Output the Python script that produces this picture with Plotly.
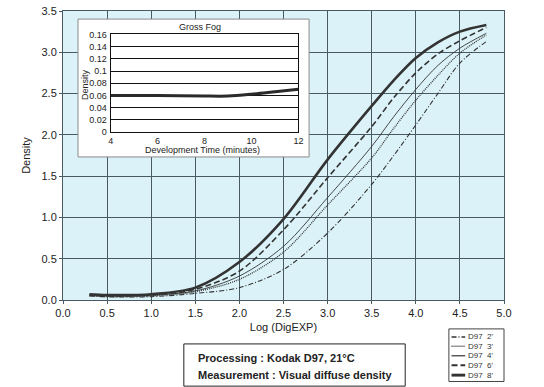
import plotly.graph_objects as go

# ---------------- data ----------------
log_exp = [0.3, 0.5, 1.0, 1.5, 2.0, 2.5, 3.0, 3.5, 3.75, 4.0, 4.25, 4.5, 4.8]
d97_2 = [0.05, 0.04, 0.04, 0.08, 0.15, 0.37, 0.81, 1.40, 1.75, 2.12, 2.50, 2.87, 3.13]
d97_3 = [0.05, 0.04, 0.05, 0.10, 0.25, 0.58, 1.15, 1.72, 2.08, 2.42, 2.72, 2.99, 3.21]
d97_4 = [0.06, 0.05, 0.06, 0.11, 0.29, 0.65, 1.24, 1.86, 2.22, 2.55, 2.84, 3.05, 3.23]
d97_6 = [0.06, 0.05, 0.06, 0.13, 0.35, 0.85, 1.48, 2.10, 2.45, 2.75, 2.98, 3.14, 3.30]
d97_8 = [0.07, 0.06, 0.07, 0.15, 0.46, 0.98, 1.70, 2.35, 2.66, 2.93, 3.12, 3.25, 3.33]
series_names = ["D97  2'", "D97  3'", "D97  4'", "D97  6'", "D97  8'"]

dev_time = [4, 6, 8, 9, 10, 11, 12]
gross_fog = [0.060, 0.060, 0.059, 0.059, 0.062, 0.066, 0.070]

x_ticks = [0.0, 0.5, 1.0, 1.5, 2.0, 2.5, 3.0, 3.5, 4.0, 4.5, 5.0]
y_ticks = [0.0, 0.5, 1.0, 1.5, 2.0, 2.5, 3.0, 3.5]
inset_x_ticks = [4, 6, 8, 10, 12]
inset_y_ticks = [0, 0.02, 0.04, 0.06, 0.08, 0.10, 0.12, 0.14, 0.16]
inset_y_labels = ["0", "0.02", "0.04", "0.06", "0.08", "0.1", "0.12", "0.14", "0.16"]

# ---------------- styles ----------------
LINE = "#333333"
GRID = "#4a5a62"
BG = "#dbf3f8"
FONT = "Liberation Sans, Arial, sans-serif"
styles = [
    dict(width=1.1, dash="5px,2px,1px,2px"),
    dict(width=1.3, dash="1px,1px"),
    dict(width=0.9, dash="solid"),
    dict(width=1.6, dash="6px,3px"),
    dict(width=2.6, dash="solid"),
]
all_series = [d97_2, d97_3, d97_4, d97_6, d97_8]

fig = go.Figure()
for name, ys, st in zip(series_names, all_series, styles):
    fig.add_trace(go.Scatter(
        x=log_exp, y=ys, mode="lines", name=name, showlegend=False,
        line=dict(color=LINE, width=st["width"], dash=st["dash"], shape="spline", smoothing=0.9),
        xaxis="x", yaxis="y"))

fig.add_trace(go.Scatter(
    x=dev_time, y=gross_fog, mode="lines", showlegend=False,
    line=dict(color="#2a2a2a", width=3, shape="spline", smoothing=0.8),
    xaxis="x2", yaxis="y2"))

fig.update_layout(
    width=544, height=387,
    margin=dict(l=63, r=40, t=11, b=87),
    paper_bgcolor="white", plot_bgcolor="rgba(0,0,0,0)",
    font=dict(family=FONT, size=11, color="#222222"),
    xaxis=dict(
        domain=[0, 1], range=[0, 5], tickvals=x_ticks, tickformat=".1f",
        showgrid=True, gridcolor=GRID, gridwidth=1,
        showline=True, mirror=True, linecolor=GRID, linewidth=1,
        ticks="outside", ticklen=3, tickcolor=GRID, zeroline=False, automargin=False,
        title=dict(text="Log (DigEXP)", standoff=5, font=dict(size=11)),
        tickfont=dict(size=11)),
    yaxis=dict(
        domain=[0, 1], range=[0, 3.5], tickvals=y_ticks, tickformat=".1f",
        showgrid=True, gridcolor=GRID, gridwidth=1,
        showline=True, mirror=True, linecolor=GRID, linewidth=1,
        ticks="outside", ticklen=3, tickcolor=GRID, zeroline=False, automargin=False,
        title=dict(text="Density", standoff=8, font=dict(size=11)),
        tickfont=dict(size=11)),
    xaxis2=dict(
        domain=[0.108, 0.534], anchor="y2", range=[4, 12], tickvals=inset_x_ticks,
        showgrid=False, showline=True, mirror=True, linecolor="#111", linewidth=1,
        ticks="", zeroline=False, tickfont=dict(size=9), ticklabelstandoff=0, automargin=False),
    yaxis2=dict(
        domain=[0.581, 0.919], anchor="x2", range=[0, 0.16],
        tickvals=inset_y_ticks, ticktext=inset_y_labels,
        showgrid=True, gridcolor="#111", gridwidth=1,
        showline=True, mirror=True, linecolor="#111", linewidth=1,
        ticks="", zeroline=False, tickfont=dict(size=9), ticklabelstandoff=1, automargin=False),
)

# inset panel placed relative to the main plot area (fractions of the main axes)
px0, px1, py0, py1 = 0.034, 0.558, 0.495, 0.972
shapes = [
    # main plot background
    dict(type="rect", xref="paper", yref="paper", x0=0, x1=1, y0=0, y1=1,
         fillcolor=BG, line=dict(width=0), layer="below"),
    # inset white panel (above main grid, below traces)
    dict(type="rect", xref="x", yref="y",
         x0=px0 * 5, x1=px1 * 5, y0=py0 * 3.5, y1=py1 * 3.5,
         fillcolor="white", line=dict(color="#8a8a8a", width=1), layer="between"),
    # processing note box
    dict(type="rect", xref="paper", yref="paper", x0=0.274, x1=0.776, y0=-0.298, y1=-0.152,
         fillcolor="white", line=dict(color="#222", width=1)),
    # legend box
    dict(type="rect", xref="paper", yref="paper", x0=0.875, x1=1.0, y0=-0.282, y1=-0.100,
         fillcolor="white", line=dict(color="#444", width=1)),
]
legend_rows = [-0.128, -0.160, -0.193, -0.226, -0.260]
for st, yy in zip(styles, legend_rows):
    shapes.append(dict(type="line", xref="paper", yref="paper", x0=0.881, x1=0.912, y0=yy, y1=yy,
                       line=dict(color=LINE, width=st["width"] + 0.3, dash=st["dash"])))
fig.update_layout(shapes=shapes)

def note(text, x, y, size, xanchor="center", **kw):
    return dict(text=text, xref="paper", yref="paper", x=x, y=y, showarrow=False,
                xanchor=xanchor, yanchor="middle", font=dict(size=size, **kw.pop("font", {})), **kw)

annotations = [
    note("Gross Fog", 0.311, 0.946, 9),
    note("Development Time (minutes)", 0.317, 0.518, 9),
    note("Density", 0.050, 0.744, 9, textangle=-90),
    note("<b>Processing : Kodak D97, 21°C</b>", 0.302, -0.200, 11, xanchor="left"),
    note("<b>Measurement : Visual diffuse density</b>", 0.302, -0.258, 11, xanchor="left"),
]
for name, yy in zip(series_names, legend_rows):
    annotations.append(note(name, 0.913, yy, 8, xanchor="left", font=dict(color="#333")))
fig.update_layout(annotations=annotations)

fig.write_html("out.html", config={"displayModeBar": False},
               post_script="document.body.style.margin='0';")
